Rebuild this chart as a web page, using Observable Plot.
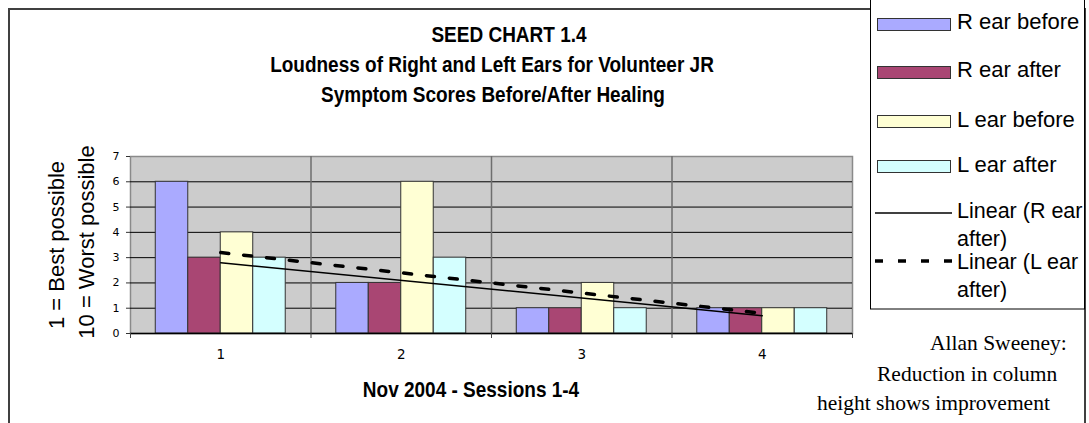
<!DOCTYPE html>
<html>
<head>
<meta charset="utf-8">
<script src="https://cdn.jsdelivr.net/npm/d3@7"></script>
<script src="https://cdn.jsdelivr.net/npm/@observablehq/plot@0.6"></script>
<style>
  html, body { margin: 0; padding: 0; background: #ffffff; }
  #wrap { position: relative; width: 1089px; height: 423px; overflow: hidden; background: #ffffff; }
  #wrap > svg { position: absolute; left: 0; top: 0; }
  #overlay { pointer-events: none; }
  svg.chart-main text { font-size: 11px !important; font-family: 'DejaVu Sans', Verdana, sans-serif !important; }
  svg.chart-main g[aria-label="x-axis tick label"] text { font-size: 13.5px !important; }
</style>
</head>
<body>
<div id="wrap"></div>
<script>
// ---- data ----
const sessions = [1, 2, 3, 4];
const xTickLabels = ["1", "2", "3", "4"];
const seriesNames = ["R ear before", "R ear after", "L ear before", "L ear after"];
const rEarBefore = [6, 2, 1, 1];
const rEarAfter  = [3, 2, 1, 1];
const lEarBefore = [4, 6, 2, 1];
const lEarAfter  = [3, 3, 1, 1];
const seriesColors = ["#aaaaff", "#a94673", "#ffffd4", "#d4ffff"];
const yTicks = [0, 1, 2, 3, 4, 5, 6, 7];
const trendNames = ["Linear (R ear after)", "Linear (L ear after)"];

const titleLines = ["SEED CHART 1.4", "Loudness of Right and Left Ears for Volunteer JR", "Symptom Scores Before/After Healing"];
const yTitleLines = ["1 = Best possible", "10 = Worst possible"];
const xTitle = "Nov 2004 - Sessions 1-4";
const captionLines = ["Allan Sweeney:", "Reduction in column", "height shows improvement"];

// ---- build tables ----
const seriesValues = [rEarBefore, rEarAfter, lEarBefore, lEarAfter];
const rows = sessions.flatMap((s, j) =>
  seriesValues.map((vals, i) => ({session: s, series: seriesNames[i], i, value: vals[j]})));
const trendR = sessions.map((s, j) => ({session: s, value: rEarAfter[j]}));
const trendL = sessions.map((s, j) => ({session: s, value: lEarAfter[j]}));
const boundaries = [sessions[0] - 0.5, ...sessions.map(s => s + 0.5)];
const innerBoundaries = boundaries.slice(1, -1);

const groupSpan = 0.72;
const barW = groupSpan / seriesNames.length;

const chart = Plot.plot({
  width: 1089,
  height: 423,
  marginLeft: 130,
  marginRight: 237,
  marginTop: 156,
  marginBottom: 90,
  style: {fontFamily: "'DejaVu Sans', Verdana, sans-serif", fontSize: "11px", background: "transparent", color: "#000"},
  x: {domain: [boundaries[0], boundaries[boundaries.length - 1]], label: null},
  y: {domain: [yTicks[0], yTicks[yTicks.length - 1]], label: null},
  color: {domain: seriesNames, range: seriesColors},
  marks: [
    Plot.frame({fill: "#cccccc", stroke: "#8a8a8a", strokeWidth: 1.5}),
    Plot.ruleY(yTicks.slice(1, -1), {stroke: "#000", strokeWidth: 1}),
    Plot.ruleX(innerBoundaries, {stroke: "#6e6e6e", strokeWidth: 1.5}),
    Plot.rect(rows, {
      x1: d => d.session - groupSpan / 2 + d.i * barW,
      x2: d => d.session - groupSpan / 2 + (d.i + 1) * barW,
      y1: 0,
      y2: "value",
      fill: "series",
      stroke: "#333333",
      strokeWidth: 1
    }),
    Plot.ruleY([yTicks[0]], {stroke: "#000", strokeWidth: 1.5}),
    Plot.linearRegressionY(trendL, {x: "session", y: "value", ci: 0, stroke: "#000", strokeWidth: 3.5, strokeDasharray: "8 15"}),
    Plot.linearRegressionY(trendR, {x: "session", y: "value", ci: 0, stroke: "#000", strokeWidth: 1.5}),
    Plot.axisY(yTicks, {tickSize: 4, tickPadding: 7, stroke: "#333", label: null}),
    Plot.axisX(boundaries, {tickSize: 5, tickFormat: () => "", stroke: "#444", label: null}),
    Plot.axisX(sessions, {tickSize: 0, tickPadding: 16, tickFormat: (d, k) => xTickLabels[k], label: null})
  ]
});
chart.classList.add("chart-main");

const wrap = document.getElementById("wrap");
wrap.appendChild(chart);

// ---- overlay text, border, legend ----
const NS = "http://www.w3.org/2000/svg";
const ov = document.createElementNS(NS, "svg");
ov.setAttribute("id", "overlay");
ov.setAttribute("width", 1089);
ov.setAttribute("height", 423);
wrap.appendChild(ov);

function el(tag, attrs, text) {
  const e = document.createElementNS(NS, tag);
  for (const k in attrs) e.setAttribute(k, attrs[k]);
  if (text != null) e.textContent = text;
  ov.appendChild(e);
  return e;
}

const sans = "'Liberation Sans', Arial, sans-serif";
const serif = "'Liberation Serif', 'Times New Roman', serif";

// outer border
el("path", {d: "M9,430 V9 H1085 V430", fill: "none", stroke: "#404040", "stroke-width": 2});

// title
const titlePos = [[509, 42], [492, 72], [493, 102]];
titleLines.forEach((t, k) => {
  el("text", {transform: `translate(${titlePos[k][0]},${titlePos[k][1]}) scale(1,1.12)`, "text-anchor": "middle",
    "font-family": sans, "font-size": 19, "font-weight": "bold", fill: "#000"}, t);
});

// y title
const yTitlePos = [[64, 245], [94, 242]];
yTitleLines.forEach((t, k) => {
  el("text", {transform: `translate(${yTitlePos[k][0]},${yTitlePos[k][1]}) rotate(-90)`, "text-anchor": "middle",
    "font-family": sans, "font-size": 22, fill: "#000"}, t);
});

// x title
el("text", {transform: "translate(471,397) scale(1,1.12)", "text-anchor": "middle", "font-family": sans,
  "font-size": 19, "font-weight": "bold", fill: "#000"}, xTitle);

// caption
const capPos = [[930, 350], [877, 381], [817, 410]];
captionLines.forEach((t, k) => {
  el("text", {x: capPos[k][0], y: capPos[k][1], "font-family": serif, "font-size": 21.5, fill: "#000"}, t);
});

// legend
el("rect", {x: 870.5, y: -2, width: 214, height: 311, fill: "#fff", stroke: "#000", "stroke-width": 1});
const swatchTop = [18, 66, 115, 160];
const labelBase = [29, 77, 127, 172];
seriesNames.forEach((name, k) => {
  el("rect", {x: 877.5, y: swatchTop[k] + 0.5, width: 73, height: 12, fill: seriesColors[k], stroke: "#333", "stroke-width": 1});
  el("text", {x: 957, y: labelBase[k], "font-family": sans, "font-size": 22, fill: "#000"}, name);
});
// trend legend entries (names wrap onto two lines)
const trendLineY = [213, 261];
const trendBase = [[218, 246], [269, 297]];
trendNames.forEach((name, k) => {
  const line = el("line", {x1: 875, x2: 952, y1: trendLineY[k], y2: trendLineY[k], stroke: "#000",
    "stroke-width": k === 0 ? 1.5 : 3.5});
  if (k === 1) line.setAttribute("stroke-dasharray", "8 15");
  const words = name.split(" ");
  const first = words.slice(0, 2).join(" ") + " " + words[2];
  const second = words.slice(3).join(" ");
  el("text", {x: 957, y: trendBase[k][0], "font-family": sans, "font-size": 21.5, fill: "#000"}, first);
  el("text", {x: 957, y: trendBase[k][1], "font-family": sans, "font-size": 21.5, fill: "#000"}, second);
});
</script>
</body>
</html>
